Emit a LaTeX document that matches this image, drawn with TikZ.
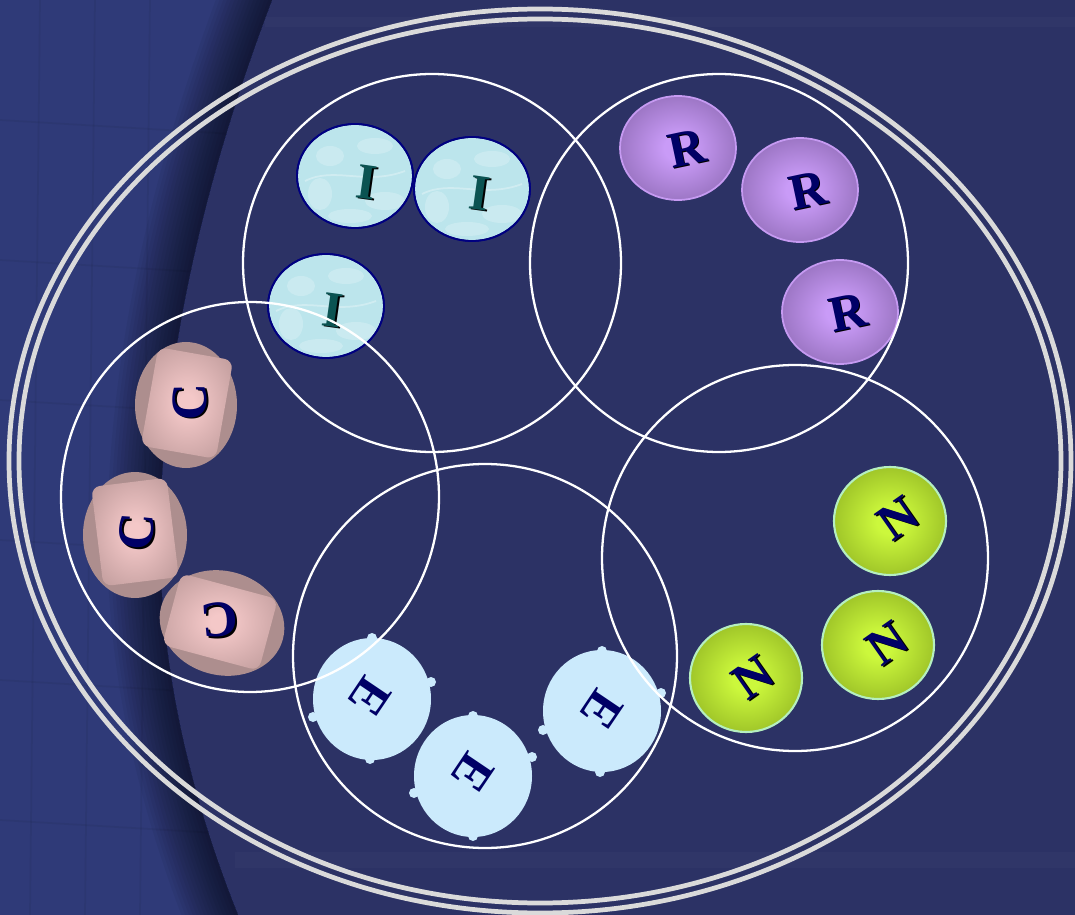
\documentclass[tikz,border=0pt]{standalone}
\usepackage{fontspec}
\newfontfamily\cellfont{Liberation Serif}
\definecolor{bgmain}{HTML}{2C3265}
\definecolor{bgleft}{HTML}{2F3A78}
\definecolor{ringgray}{HTML}{DADADA}
\definecolor{icyan}{HTML}{BCE5EC}
\definecolor{inavy}{HTML}{000080}
\definecolor{iteal}{HTML}{0B5352}
\definecolor{rin}{HTML}{C99BF7}
\definecolor{rout}{HTML}{634684}
\definecolor{redge}{HTML}{C69AF2}
\definecolor{nin}{HTML}{CCF83C}
\definecolor{nout}{HTML}{678510}
\definecolor{nedge}{HTML}{B5EFC0}
\definecolor{cin}{HTML}{F4C8C8}
\definecolor{cout}{HTML}{9E7F7F}
\definecolor{cbase}{HTML}{AD8E8E}
\definecolor{ecell}{HTML}{CBEAFC}
\definecolor{letnavy}{HTML}{000066}
\pgfdeclareradialshading{rshade}{\pgfpoint{0bp}{0bp}}{color(0bp)=(rin); color(6bp)=(rin); color(50bp)=(rout)}
\pgfdeclareradialshading{nshade}{\pgfpoint{0bp}{0bp}}{color(0bp)=(nin); color(6bp)=(nin); color(50bp)=(nout)}
\pgfdeclareradialshading{cshade}{\pgfpoint{0bp}{0bp}}{color(0bp)=(cin); color(4bp)=(cin); color(50bp)=(cout)}
\tikzset{
  ring/.style={draw=ringgray, line width=2.7pt},
  group/.style={draw=white, line width=1.3pt},
  icell/.style={fill=icyan, draw=inavy, line width=1pt},
  rcell/.style={shading=rshade},
  ncell/.style={shading=nshade},
  cbox/.style={shading=cshade, rounded corners=5pt},
  ecellst/.style={fill=ecell},
  blob/.style={fill=white, opacity=0.22},
  letter/.style={font=\cellfont\bfseries\fontsize{29}{29}\selectfont, inner sep=0pt},
  shadow/.style={letter, text=black},
}
\begin{document}
\begin{tikzpicture}[x=0.02cm,y=-0.02cm]
\useasboundingbox (0,0) rectangle (1075,915);
% background
\fill[bgmain] (0,0) rectangle (1075,915);
\fill[bgleft] (0,0) -- (272,0) .. controls (215,150) and (165,330) .. (160,520) .. controls (157,680) and (200,820) .. (238,915) -- (0,915) -- cycle;
\begin{scope}
  \clip (0,0) -- (272,0) .. controls (215,150) and (165,330) .. (160,520) .. controls (157,680) and (200,820) .. (238,915) -- (0,915) -- cycle;
  \foreach \w in {4,8,...,60}
    \draw[black, opacity=0.045, line width=\w pt] (272,0) .. controls (215,150) and (165,330) .. (160,520) .. controls (157,680) and (200,820) .. (238,915);
  \foreach \gx in {40,95,150} \draw[black, opacity=0.05, line width=1pt] (\gx,0) -- (\gx-10,915);
  \foreach \gy in {120,260,400,540,680,820} \draw[black, opacity=0.05, line width=1pt] (0,\gy) -- (250,\gy+15);
\end{scope}
\fill[white, opacity=0.025] (265,17) rectangle (1075,27);
\fill[white, opacity=0.02] (235,852) rectangle (1075,868);
% double outer ring
\draw[ring] (540,461) ellipse [x radius=531, y radius=452];
\draw[ring] (540,461) ellipse [x radius=521, y radius=442];
% I cells
\foreach \cx/\cy in {355/176, 472/189, 326/306} {
  \filldraw[icell] (\cx,\cy) ellipse [x radius=58, y radius=52];
  \begin{scope}
    \clip (\cx,\cy) ellipse [x radius=57, y radius=51];
    \fill[blob] (\cx-25,\cy-20) ellipse [x radius=14, y radius=10];
    \fill[blob] (\cx+20,\cy-30) ellipse [x radius=18, y radius=8];
    \fill[blob] (\cx-35,\cy+18) ellipse [x radius=12, y radius=16];
    \fill[blob] (\cx+30,\cy+25) ellipse [x radius=20, y radius=9];
    \fill[blob] (\cx-5,\cy+40) ellipse [x radius=22, y radius=7];
    \draw[white, opacity=0.3, line width=1pt] (\cx-50,\cy+5) .. controls (\cx-20,\cy-10) and (\cx+10,\cy+10) .. (\cx+50,\cy-5);
  \end{scope}
  \draw[inavy, line width=1pt] (\cx,\cy) ellipse [x radius=58, y radius=52];
}
% R cells
\foreach \cx/\cy in {678/148, 800/190, 840/312} {
  \shade[rcell] (\cx,\cy) ellipse [x radius=58, y radius=52];
  \draw[redge, line width=1pt] (\cx,\cy) ellipse [x radius=58, y radius=52];
}
% N cells
\foreach \cx/\cy in {890/521, 878/645, 746/678} {
  \shade[ncell] (\cx,\cy) ellipse [x radius=56, y radius=54];
  \draw[nedge, line width=1.2pt] (\cx,\cy) ellipse [x radius=56, y radius=54];
}
% C cells
\fill[cbase] (186,405) ellipse [x radius=51, y radius=63];
\shade[cbox, rotate around={-10:(187,403)}] (149,353) rectangle (225,453);
\fill[cbase] (135,535) ellipse [x radius=52, y radius=63];
\shade[cbox, rotate around={7:(135,532)}] (97,482) rectangle (173,582);
\fill[cbase, rotate around={-15:(222,623)}] (222,623) ellipse [x radius=63, y radius=52];
\shade[cbox, rotate around={-15:(220,622)}] (170,585) rectangle (270,659);
% E cells
\fill[ecellst] (372,699) ellipse [x radius=59, y radius=61];
\foreach \p in {(372,638),(431,682),(370,759),(313,717)} \fill[ecellst] \p circle [radius=5];
\fill[ecellst] (473,776) ellipse [x radius=59, y radius=61];
\foreach \p in {(473,716),(532,757),(473,836),(414,793)} \fill[ecellst] \p circle [radius=5];
\fill[ecellst] (602,711) ellipse [x radius=59, y radius=61];
\foreach \p in {(602,651),(661,693),(600,772),(543,730)} \fill[ecellst] \p circle [radius=5];
% letters: shadows
\node[shadow, rotate=-8] (i1s) at (368.5,183.5) {I};
\node[shadow, rotate=-8] (i2s) at (481.5,194.5) {I};
\node[shadow, rotate=-8] (i3s) at (334.5,311.5) {I};
\node[shadow, rotate=12] (r1s) at (688.5,149.5) {R};
\node[shadow, rotate=12] (r2s) at (809.5,191.5) {R};
\node[shadow, rotate=12] (r3s) at (849.5,313.5) {R};
\node[shadow, rotate=90] (c1s) at (191.5,403.5) {C};
\node[shadow, rotate=85] (c2s) at (138.5,533.5) {C};
\node[shadow, rotate=185] (c3s) at (221.5,621.5) {C};
\node[shadow, rotate=35] (n1s) at (899.5,519.5) {N};
\node[shadow, rotate=35] (n2s) at (888.5,644.5) {N};
\node[shadow, rotate=35] (n3s) at (754.5,678.5) {N};
% letters
\node[letter, text=iteal, rotate=-8] (i1) at (367,182) {I};
\node[letter, text=iteal, rotate=-8] (i2) at (480,193) {I};
\node[letter, text=iteal, rotate=-8] (i3) at (333,310) {I};
\node[letter, text=letnavy, rotate=12] (r1) at (687,148) {R};
\node[letter, text=letnavy, rotate=12] (r2) at (808,190) {R};
\node[letter, text=letnavy, rotate=12] (r3) at (848,312) {R};
\node[letter, text=letnavy, rotate=90] (c1) at (190,402) {C};
\node[letter, text=letnavy, rotate=85] (c2) at (137,532) {C};
\node[letter, text=letnavy, rotate=185] (c3) at (220,620) {C};
\node[letter, text=letnavy, rotate=-124] (e1) at (370,697) {E};
\node[letter, text=letnavy, rotate=-124] (e2) at (473,773) {E};
\node[letter, text=letnavy, rotate=-124] (e3) at (602,710) {E};
\node[letter, text=letnavy, rotate=35] (n1) at (898,518) {N};
\node[letter, text=letnavy, rotate=35] (n2) at (887,643) {N};
\node[letter, text=letnavy, rotate=35] (n3) at (753,677) {N};
% group circles
\draw[group] (432,263) circle [radius=189];
\draw[group] (719,263) circle [radius=189];
\draw[group] (250,497) ellipse [x radius=189, y radius=195];
\draw[group] (485,656) circle [radius=192];
\draw[group] (795,558) circle [radius=193];
\end{tikzpicture}
\end{document}
